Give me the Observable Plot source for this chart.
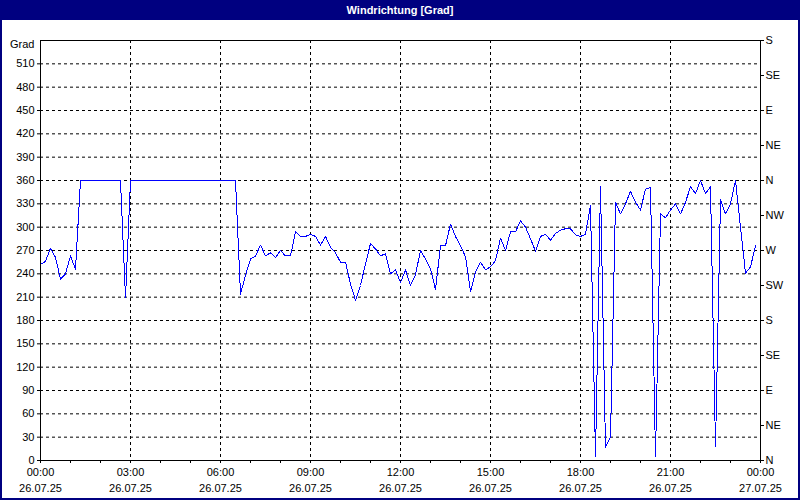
<!DOCTYPE html>
<html><head><meta charset="utf-8">
<script src="https://cdn.jsdelivr.net/npm/d3@7"></script>
<script src="https://cdn.jsdelivr.net/npm/@observablehq/plot@0.6"></script>
<style>
html,body{margin:0;padding:0;background:#fff;}
#win{position:relative;width:800px;height:500px;overflow:hidden;background:#fff;font-family:"Liberation Sans Narrow","Liberation Sans",Arial,sans-serif;}
#title{position:absolute;left:0;top:0;width:800px;height:20px;background:#000080;color:#fff;font-weight:bold;font-size:11px;line-height:20px;text-align:center;}
#chart{position:absolute;left:0;top:20px;}
.b{position:absolute;background:#000080;}
</style></head><body>
<div id="win">
<div id="title">Windrichtung [Grad]</div>
<div id="chart"></div>
<div class="b" style="left:0;top:20px;width:2px;height:480px"></div>
<div class="b" style="right:0;top:20px;width:2px;height:480px"></div>
<div class="b" style="left:0;bottom:0;width:800px;height:2px"></div>
</div>
<script>
const title = "Windrichtung [Grad]";
const yUnit = "Grad";
const startTime = "2025-07-26T00:00:00Z";
const endTime = "2025-07-27T00:00:00Z";
const stepMinutes = 10;
const windDirection = [
  252, 256, 273, 261, 233, 240, 263, 246,
  360, 360, 360, 360, 360, 360, 360, 360, 360,
  209,
  360, 360, 360, 360, 360, 360, 360, 360, 360, 360, 360,
  360, 360, 360, 360, 360, 360, 360, 360, 360, 360, 360,
  214, 238, 259, 263, 277, 263, 267, 261, 270, 263,
  263, 294, 288, 288, 291, 288, 277, 288, 274, 267,
  255, 255, 227, 206, 225, 253, 279, 272, 263, 266,
  240, 245, 229, 245, 225, 239, 270, 259, 246, 220,
  276, 276, 304, 288, 276, 262, 217, 242, 255, 245,
  249, 257, 286, 270, 294, 294, 308, 300, 285, 269,
  288, 291, 283, 292, 296, 298, 298, 290, 288, 291,
  328, 5, 352, 17, 30, 332, 317, 330, 346, 332,
  322, 349, 351, 5, 317, 312, 322, 330, 317, 332,
  352, 343, 360, 343, 352, 18, 335, 317, 330, 360,
  300, 241, 249, 276
];
const gradTicks = [0, 30, 60, 90, 120, 150, 180, 210, 240, 270, 300, 330, 360, 390, 420, 450, 480, 510];
const gridValues = [30, 60, 90, 120, 150, 180, 210, 240, 270, 300, 330, 360, 390, 420, 450, 480, 510];
const compassTicks = [0, 45, 90, 135, 180, 225, 270, 315, 360, 405, 450, 495, 540];
const compassLabels = ["N", "NE", "E", "SE", "S", "SW", "W", "NW", "N", "NE", "E", "SE", "S"];
const yMax = 540;

const t0 = new Date(startTime), t1 = new Date(endTime);
const data = windDirection.map((v, i) => ({t: new Date(+t0 + i * stepMinutes * 60000), v}));
const hourTicks = d3.utcHour.range(t0, new Date(+t1 + 1));
const labelTicks = d3.utcHour.every(3).range(t0, new Date(+t1 + 1));
const gridTimes = labelTicks.slice(1, -1);

document.getElementById("title").textContent = title;

const chart = Plot.plot({
  width: 800, height: 480,
  marginTop: 20, marginBottom: 40, marginLeft: 40, marginRight: 40,
  style: {fontFamily: '"Liberation Sans Narrow","Liberation Sans",Arial,sans-serif', fontSize: "11px", color: "#000", background: "transparent", overflow: "visible"},
  x: {type: "utc", domain: [t0, t1]},
  y: {domain: [0, yMax]},
  marks: [
    Plot.gridY(gridValues, {stroke: "#000", strokeOpacity: 1, strokeDasharray: "3,3"}),
    Plot.gridX(gridTimes, {stroke: "#000", strokeOpacity: 1, strokeDasharray: "3,3"}),
    Plot.line(data, {x: "t", y: "v", stroke: "#0000ff", strokeWidth: 1, shapeRendering: "crispEdges"}),
    Plot.frame({stroke: "#000"}),
    Plot.axisY(gradTicks, {tickSize: 3, tickPadding: 3, label: null}),
    Plot.axisY([yMax], {tickSize: 0, tickPadding: 6, tickFormat: () => yUnit, dy: 4, label: null}),
    Plot.axisY(compassTicks, {anchor: "right", tickSize: 3, tickPadding: 2, tickFormat: d => compassLabels[compassTicks.indexOf(d)], label: null}),
    Plot.axisX(hourTicks, {tickSize: 3, tickFormat: () => "", label: null}),
    Plot.axisX(labelTicks, {tickSize: 0, tickPadding: 8, tickFormat: d3.utcFormat("%H:%M"), label: null}),
    Plot.axisX(labelTicks, {tickSize: 0, tickPadding: 24, tickFormat: d3.utcFormat("%d.%m.%y"), label: null})
  ]
});
document.getElementById("chart").appendChild(chart);
</script>
</body></html>
